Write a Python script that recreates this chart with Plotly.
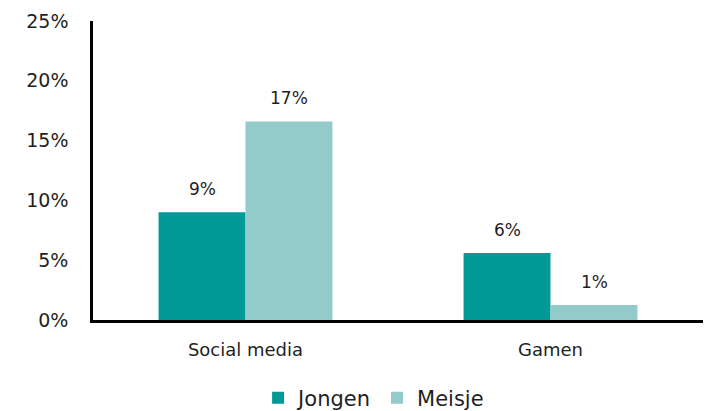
import plotly.graph_objects as go

# data
categories = ['Social media', 'Gamen']
jongen = [0.090, 0.056]
meisje = [0.166, 0.0125]
y_ticks = [0, 0.05, 0.10, 0.15, 0.20, 0.25]

series = [('Jongen', jongen, '#009996', -43.5), ('Meisje', meisje, '#93CACA', 43.5)]
FONT = 'DejaVu Sans'

fig = go.Figure()
for name, vals, color, shift in series:
    fig.add_trace(go.Bar(x=categories, y=vals, name=name, marker_color=color,
                         marker_line_width=0))

# value labels above the bars
for name, vals, color, shift in series:
    for cat, v in zip(categories, vals):
        fig.add_annotation(x=cat, y=v, text=f"{v:.0%}", showarrow=False,
                           xshift=shift, yshift=11, yanchor='bottom',
                           font=dict(size=17, color='#1F1F1F', family=FONT))

# page has an 8px body margin, so margins are shifted to land on the reference spots
fig.update_layout(
    width=717, height=411,
    paper_bgcolor='white', plot_bgcolor='white',
    margin=dict(l=85, r=22, t=13, b=99),
    barmode='group', bargap=0.43, bargroupgap=0,
    font=dict(family=FONT, color='#1F1F1F'),
    showlegend=True,
    legend=dict(orientation='h', x=0.46, xanchor='center', yref='container', y=0.051,
                yanchor='middle', font=dict(size=21, family=FONT), itemsizing='constant',
                traceorder='normal'),
)
fig.update_xaxes(showline=True, linecolor='black', linewidth=2.5, ticks='',
                 ticklabelstandoff=12, tickfont=dict(size=18, family=FONT),
                 showgrid=False, automargin=False)
fig.update_yaxes(range=[0, 0.25], tickvals=y_ticks, tickformat='.0%', showline=True,
                 linecolor='black', linewidth=2.5, showgrid=False, zeroline=False,
                 ticks='', ticklabelstandoff=18, tickfont=dict(size=19, family=FONT),
                 automargin=False)

fig.write_html("out.html")
